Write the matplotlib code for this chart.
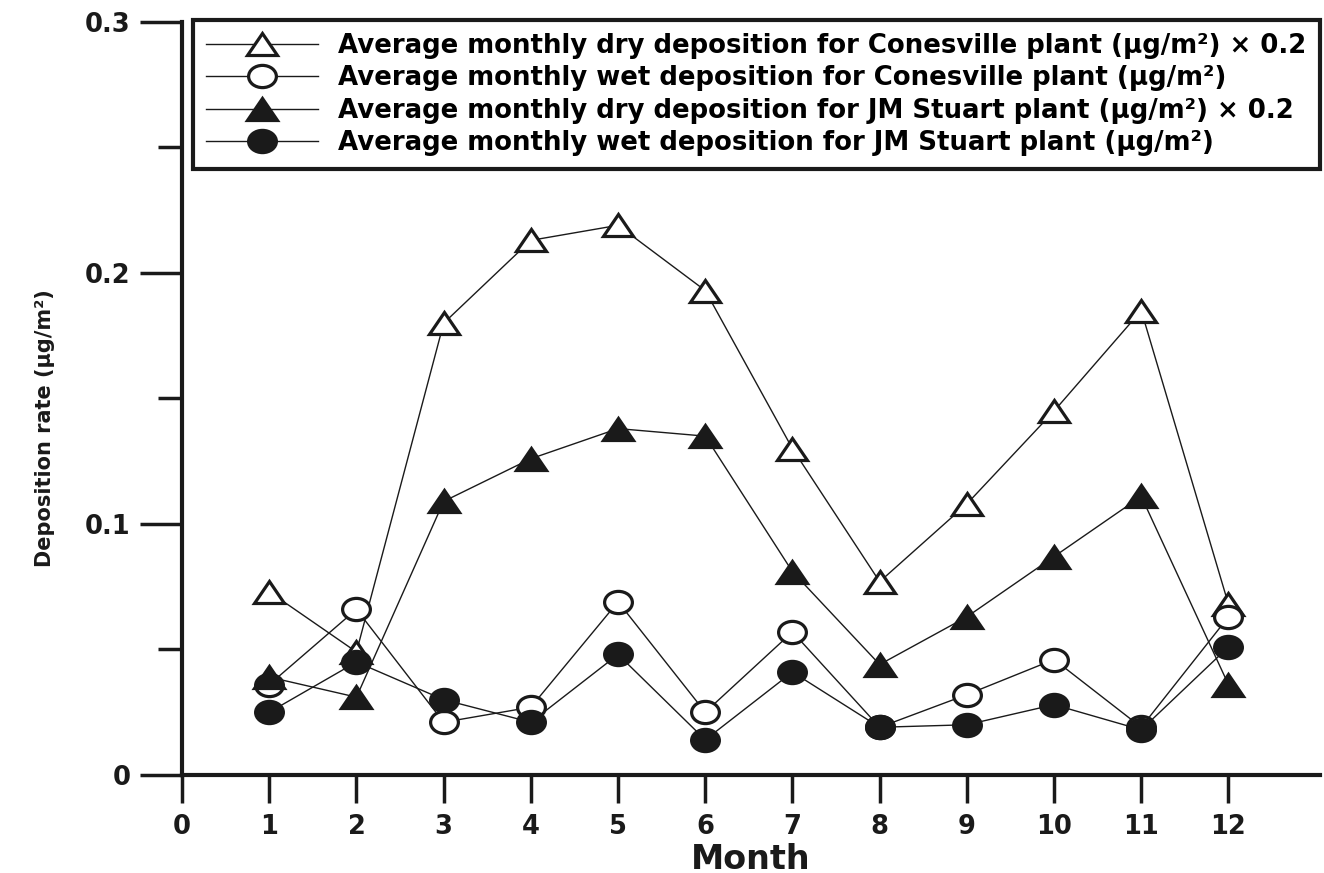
import numpy as np
import matplotlib
matplotlib.use("Agg")
import matplotlib.pyplot as plt
from matplotlib.markers import MarkerStyle
from matplotlib.transforms import Affine2D

months = [1, 2, 3, 4, 5, 6, 7, 8, 9, 10, 11, 12]

# dry deposition values are already x 0.2 as in the legend
cones_dry = [0.073, 0.049, 0.180, 0.213, 0.219, 0.193, 0.130, 0.077, 0.108, 0.145, 0.185, 0.068]
cones_wet = [0.036, 0.066, 0.021, 0.027, 0.069, 0.025, 0.057, 0.019, 0.032, 0.046, 0.019, 0.063]
jms_dry = [0.039, 0.031, 0.109, 0.126, 0.138, 0.135, 0.081, 0.044, 0.063, 0.087, 0.111, 0.036]
jms_wet = [0.025, 0.045, 0.030, 0.021, 0.048, 0.014, 0.041, 0.019, 0.020, 0.028, 0.018, 0.051]

labels = [
    "Average monthly dry deposition for Conesville plant (\u03bcg/m\u00b2) \u00d7 0.2",
    "Average monthly wet deposition for Conesville plant (\u03bcg/m\u00b2)",
    "Average monthly dry deposition for JM Stuart plant (\u03bcg/m\u00b2) \u00d7 0.2",
    "Average monthly wet deposition for JM Stuart plant (\u03bcg/m\u00b2)",
]
y_ticks = [0, 0.1, 0.2, 0.3]
y_ticklabels = ["0", "0.1", "0.2", "0.3"]
y_minor = [0.05, 0.15, 0.25]

ink = "#1a1a1a"

# flattened markers, the original figure is a bit squashed
tri = MarkerStyle("^", transform=Affine2D().scale(1.0, 0.75))
circ = MarkerStyle("o", transform=Affine2D().scale(1.0, 0.8))

fig = plt.figure(figsize=(13.24, 8.73), dpi=100)
ax = fig.add_axes([0.1375, 0.1123, 0.9970 - 0.1375, 0.9748 - 0.1123])

series = [
    (cones_dry, tri, "white", 21),
    (cones_wet, circ, "white", 20),
    (jms_dry, tri, ink, 21),
    (jms_wet, circ, ink, 20),
]
for (vals, mk, face, ms), lab in zip(series, labels):
    ax.plot(months, vals, color=ink, lw=1.0, marker=mk, markersize=ms,
            markerfacecolor=face, markeredgecolor=ink, markeredgewidth=2.3,
            label=lab)

ax.set_xlim(0, 13.05)
ax.set_ylim(0, 0.3)
ax.set_xticks(range(0, 13))
ax.set_yticks(y_ticks)
ax.set_yticklabels(y_ticklabels)
ax.set_yticks(y_minor, minor=True)

for s in ["top", "right"]:
    ax.spines[s].set_visible(False)
for s in ["left", "bottom"]:
    ax.spines[s].set_linewidth(3)
    ax.spines[s].set_color(ink)

ax.tick_params(axis="y", which="major", direction="out", length=30, width=2.5,
               color=ink, pad=7)
ax.tick_params(axis="y", which="minor", direction="out", length=17, width=2.5,
               color=ink)
ax.tick_params(axis="x", direction="out", length=20, width=2.5, color=ink, pad=8)
for t in ax.get_xticklabels() + ax.get_yticklabels():
    t.set_fontfamily("DejaVu Sans")
    t.set_fontweight("bold")
    t.set_fontsize(18.5)
    t.set_color(ink)

ax.set_xlabel("Month", family="DejaVu Sans", fontweight="bold", fontsize=24,
              color=ink, labelpad=2)
ax.set_ylabel("Deposition rate (\u03bcg/m\u00b2)", family="DejaVu Sans",
              fontweight="bold", fontsize=15, color=ink)
ax.yaxis.set_label_coords(-0.112, 0.461)

leg = ax.legend(loc="upper left", bbox_to_anchor=(193 / 1324, 1 - 20 / 873),
                bbox_transform=fig.transFigure, frameon=True, fancybox=False,
                framealpha=1,
                prop={"family": "DejaVu Sans", "weight": "bold", "size": 18.7},
                handlelength=4.3, handletextpad=0.8, borderpad=0.5,
                labelspacing=0.25, borderaxespad=0)
leg.get_frame().set_edgecolor(ink)
leg.get_frame().set_linewidth(3)

fig.savefig("out.png", dpi=100)
